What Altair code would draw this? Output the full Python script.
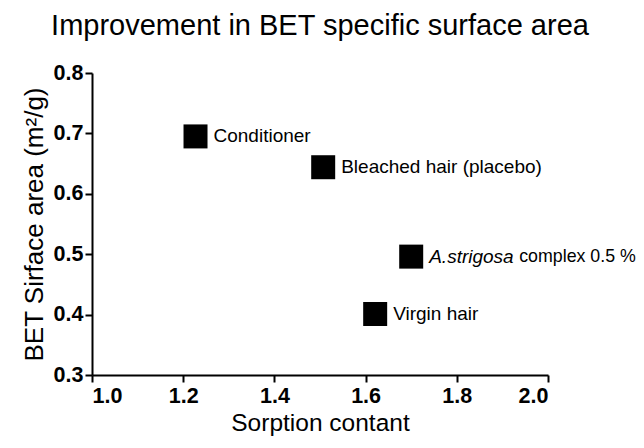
import altair as alt
import pandas as pd

samples = ["Conditioner", "Bleached hair (placebo)", "A.strigosa complex 0.5 %", "Virgin hair"]
sorption = [1.227, 1.507, 1.700, 1.621]
bet_area = [0.695, 0.644, 0.496, 0.401]
label_plain = ["Conditioner", "Bleached hair (placebo)", "", "Virgin hair"]
label_italic = ["", "", "A.strigosa", ""]
label_suffix = ["", "", "complex 0.5 %", ""]

df = pd.DataFrame({
    "sample": samples,
    "x": sorption,
    "y": bet_area,
    "plain": label_plain,
    "italic": label_italic,
    "suffix": label_suffix,
})

FONT = "Liberation Sans"

base = alt.Chart(df).encode(
    x=alt.X("x:Q", scale=alt.Scale(domain=[1.0, 2.0], nice=False, zero=False),
            axis=alt.Axis(values=[1.0, 1.2, 1.4, 1.6, 1.8, 2.0], format=".1f",
                          title="Sorption contant")),
    y=alt.Y("y:Q", scale=alt.Scale(domain=[0.3, 0.8], nice=False, zero=False),
            axis=alt.Axis(values=[0.3, 0.4, 0.5, 0.6, 0.7, 0.8], format=".1f",
                          title="BET Sirface area (m²/g)")),
)

points = base.mark_point(shape="square", filled=True, color="black", opacity=1, size=576)
plain = base.mark_text(align="left", baseline="middle", dx=18, fontSize=19, font=FONT, color="black").encode(text="plain:N")
italic = base.mark_text(align="left", baseline="middle", dx=18, fontSize=19, font=FONT, fontStyle="italic", color="black").encode(text="italic:N")
suffix = base.mark_text(align="left", baseline="middle", dx=108, fontSize=17.8, font=FONT, color="black").encode(text="suffix:N")

chart = alt.layer(points, plain, italic, suffix).properties(
    width=456, height=302,
    autosize=alt.AutoSizeParams(type="none"),
    padding={"left": 84, "top": 65, "right": 88, "bottom": 65},
    title=alt.TitleParams("Improvement in BET specific surface area", anchor="middle", frame="group",
                          offset=21, fontSize=29, fontWeight="normal", font=FONT, color="black"),
).configure_view(stroke=None).configure_axis(
    grid=False,
    domainColor="black", domainWidth=2,
    tickColor="black", tickWidth=2, tickSize=7,
    labelFont=FONT, labelFontSize=21.5, labelFontWeight="bold", labelColor="black",
    titleFont=FONT, titleFontWeight="normal", titleColor="black",
).configure_axisY(labelPadding=2, titlePadding=6, titleFontSize=26).configure_axisX(labelPadding=3, titlePadding=5, titleFontSize=24.5)

chart.save("out.html", embed_options={"renderer": "svg", "actions": False})
